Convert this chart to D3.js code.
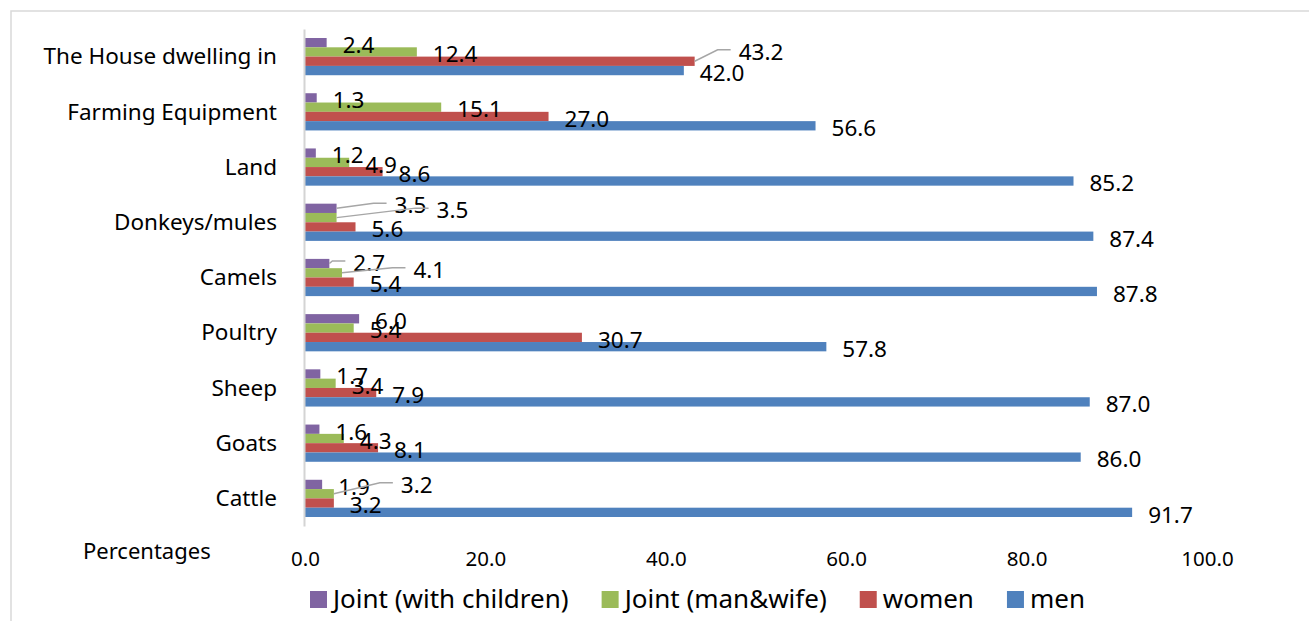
<!DOCTYPE html>
<html>
<head>
<meta charset="utf-8">
<script src="https://cdn.jsdelivr.net/npm/d3@7"></script>
<style>
  html, body { margin: 0; padding: 0; background: #ffffff; }
  svg { display: block; font-family: "Noto Sans", "Open Sans", sans-serif; }
</style>
</head>
<body>
<svg id="chart" width="1309" height="621"></svg>
<script>
// Asset ownership by household member, percentages
const categories = ["The House dwelling in", "Farming Equipment", "Land", "Donkeys/mules",
                    "Camels", "Poultry", "Sheep", "Goats", "Cattle"];
const seriesNames = ["Joint (with children)", "Joint (man&wife)", "women", "men"];
const jointChildren = [2.4, 1.3, 1.2, 3.5, 2.7, 6.0, 1.7, 1.6, 1.9];
const jointCouple   = [12.4, 15.1, 4.9, 3.5, 4.1, 5.4, 3.4, 4.3, 3.2];
const women         = [43.2, 27.0, 8.6, 5.6, 5.4, 30.7, 7.9, 8.1, 3.2];
const men           = [42.0, 56.6, 85.2, 87.4, 87.8, 57.8, 87.0, 86.0, 91.7];
const tickValues    = [0, 20, 40, 60, 80, 100];
const axisTitle     = "Percentages";

const seriesValues = [jointChildren, jointCouple, women, men];
const seriesColors = ["#8064A2", "#9BBB59", "#C0504D", "#4F81BD"];

// labels that were dragged away from their bars (offset in px, drawn with a leader line)
const labelNudges = {
  "The House dwelling in|women": [28, -12],
  "Donkeys/mules|Joint (with children)": [42, -5.5],
  "Donkeys/mules|Joint (man&wife)": [84, -10],
  "Camels|Joint (with children)": [8, -3],
  "Camels|Joint (man&wife)": [55.5, -5.5],
  "Cattle|Joint (man&wife)": [51, -11.5]
};

const rows = categories.map((c, i) => ({
  category: c,
  values: seriesNames.map((s, j) => ({ category: c, series: s, value: seriesValues[j][i], color: seriesColors[j] }))
}));

const svg = d3.select("#chart");

// chart area border
svg.append("rect")
  .attr("x", 11).attr("y", 11).attr("width", 1400).attr("height", 700)
  .attr("fill", "none").attr("stroke", "#d9d9d9").attr("stroke-width", 1.5);

const x = d3.scaleLinear().domain([0, 100]).range([305, 1207]);
const y = d3.scaleBand().domain(categories).range([29, 526]).paddingInner(0.326).paddingOuter(0.163);
const ySub = d3.scaleBand().domain(seriesNames).range([0, y.bandwidth()]);

// bars
const groups = svg.append("g").selectAll("g")
  .data(rows).join("g")
  .attr("transform", d => `translate(0,${y(d.category)})`);

groups.selectAll("rect")
  .data(d => d.values).join("rect")
  .attr("x", x(0))
  .attr("y", d => ySub(d.series))
  .attr("width", d => x(d.value) - x(0))
  .attr("height", ySub.bandwidth())
  .attr("fill", d => d.color);

// category axis
const yAxis = svg.append("g")
  .attr("transform", "translate(304,0)")
  .call(d3.axisLeft(y).tickSize(0).tickPadding(27));
yAxis.select(".domain").attr("stroke", "#d4d4d4").attr("stroke-width", 2);
yAxis.selectAll("text")
  .attr("dy", "7.7")
  .attr("fill", "#000")
  .style("font-size", "22.5px")
  .style("font-family", "'Noto Sans', sans-serif");

// value axis (labels only)
const xAxis = svg.append("g")
  .attr("transform", "translate(0,566)")
  .call(d3.axisBottom(x).tickValues(tickValues).tickFormat(d3.format(".1f")).tickSize(0));
xAxis.select(".domain").remove();
xAxis.selectAll("text")
  .attr("y", 0).attr("dy", 0)
  .attr("fill", "#000")
  .style("font-size", "20.5px")
  .style("font-family", "'Noto Sans', sans-serif");

svg.append("text")
  .attr("x", 83).attr("y", 559)
  .style("font-size", "22px")
  .attr("fill", "#000")
  .text(axisTitle);

// data labels
const labelLayer = svg.append("g");
const leaderLayer = svg.append("g");
rows.forEach(r => {
  r.values.forEach(v => {
    const barCy = y(r.category) + ySub(v.series) + ySub.bandwidth() / 2;
    const xEnd = x(v.value);
    const nudge = labelNudges[r.category + "|" + v.series] || [0, 0];
    const lx = xEnd + 16 + nudge[0];
    const lcy = barCy + 2.5 + nudge[1];
    labelLayer.append("text")
      .attr("x", lx).attr("y", lcy + 7.8)
      .style("font-size", "22.5px")
      .attr("fill", "#000")
      .text(d3.format(".1f")(v.value));
    if (nudge[0] !== 0 || nudge[1] !== 0) {
      const ly = lcy - 2;
      const endX = lx - 8;
      const kneeX = Math.max(xEnd + 3, endX - 13);
      leaderLayer.append("path")
        .attr("d", d3.line()([[xEnd, barCy], [kneeX, ly], [endX, ly]]))
        .attr("fill", "none")
        .attr("stroke", "#a6a6a6")
        .attr("stroke-width", 1.5);
    }
  });
});

// legend, laid out left to right from its first swatch
const legend = svg.append("g");
const items = legend.selectAll("g").data(seriesNames.map((s, j) => ({ s, c: seriesColors[j] }))).join("g");
items.append("rect").attr("width", 17).attr("height", 17).attr("y", 591).attr("fill", d => d.c);
items.append("text")
  .attr("y", 607.5)
  .style("font-size", "26px")
  .attr("fill", "#000")
  .text(d => d.s);
let cursor = 310;
items.each(function () {
  const g = d3.select(this);
  const w = g.select("text").node().getComputedTextLength();
  g.select("rect").attr("x", cursor);
  g.select("text").attr("x", cursor + 23);
  cursor += 23 + w + 33;
});
</script>
</body>
</html>
